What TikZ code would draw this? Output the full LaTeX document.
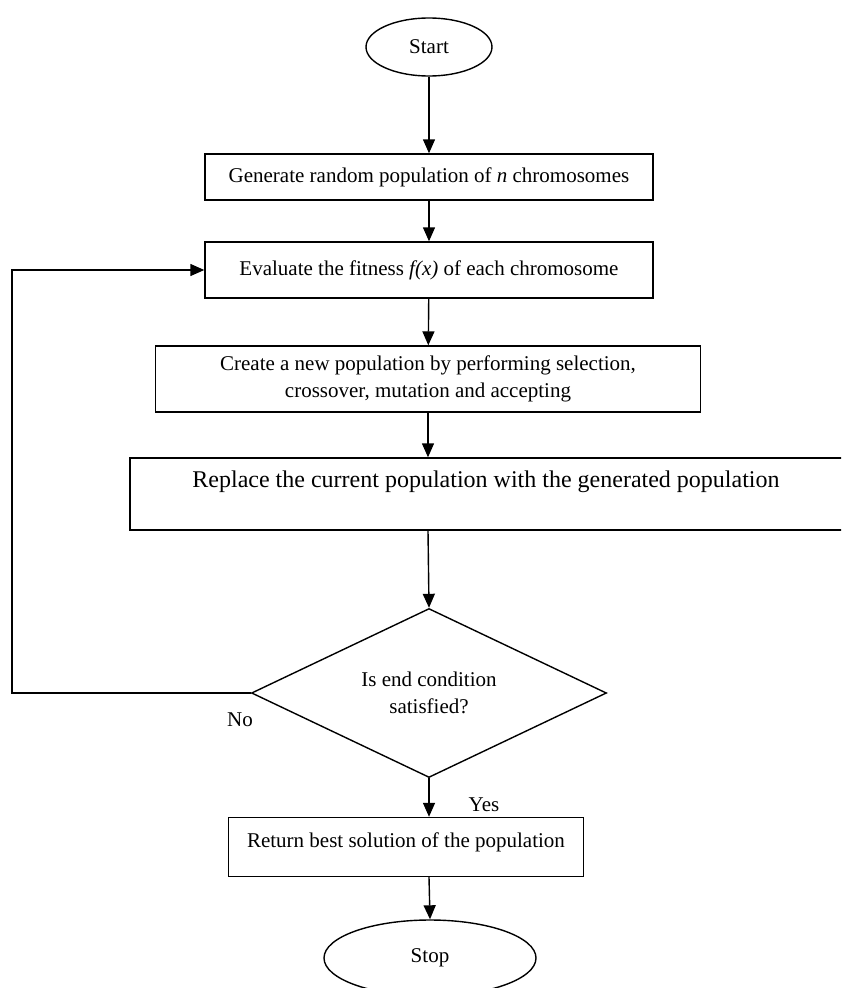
\documentclass[tikz,border=0pt]{standalone}
\usepackage{fontspec}
\setmainfont{Liberation Serif}
\usetikzlibrary{shapes.geometric,arrows.meta}
\begin{document}
\begin{tikzpicture}[x=1pt,y=-1pt,
  every node/.style={font=\fontsize{21}{27}\selectfont, inner sep=0pt},
  box/.style={draw, line width=1.4pt, rectangle},
  oval/.style={draw, line width=1.4pt, ellipse},
  decision/.style={draw, line width=1.4pt, diamond, aspect=2.1, align=center},
  conn/.style={-{Triangle[length=14pt,width=12pt]}, line width=1.4pt}]
\useasboundingbox (0,0) rectangle (841,988);
\clip (0,0) rectangle (841,988);

\node[oval, minimum width=126pt, minimum height=58pt] (start) at (429,47) {Start};
\node[box, minimum width=448pt, minimum height=46pt] (b1) at (429,177)
  {Generate random population of \textit{n} chromosomes};
\node[box, minimum width=448pt, minimum height=56pt] (b2) at (429,270)
  {Evaluate the fitness \textit{f(x)} of each chromosome};
\node[box, minimum width=545pt, minimum height=66pt, align=center] (b3) at (428,379)
  {Create a new population by performing selection,\\crossover, mutation and accepting};
\node[box, minimum width=750pt, minimum height=72pt] (b4) at (505,494) {};
\node[font=\fontsize{24}{29}\selectfont] (t4) at (486,482)
  {Replace the current population with the generated population};
\node[decision, minimum width=355pt, minimum height=169pt] (d) at (429,693)
  {Is end condition\\satisfied?};
\node[box, minimum width=355pt, minimum height=59pt] (b5) at (406,847) {};
\node (t5) at (406,842) {Return best solution of the population};
\node[oval, minimum width=212pt, minimum height=76pt] (stop) at (430,958) {Stop};

\coordinate (fb) at (12,693);

\draw[conn] (start) -- (b1);
\draw[conn] (b1) -- (b2);
\draw[conn] (b2) -- (b3);
\draw[conn] (b3.south) -- (b3.south |- b4.north);
\draw[conn] (b3.south |- b4.south) -- (d.north);
\draw[conn] (d.south) -- (d.south |- b5.north);
\draw[conn] (d.south |- b5.south) -- (stop.north);
\draw[conn] (d.west) -- (fb) |- (b2.west);

\node (no) at (240,720) {No};
\node (yes) at (484,805) {Yes};
\end{tikzpicture}
\end{document}
